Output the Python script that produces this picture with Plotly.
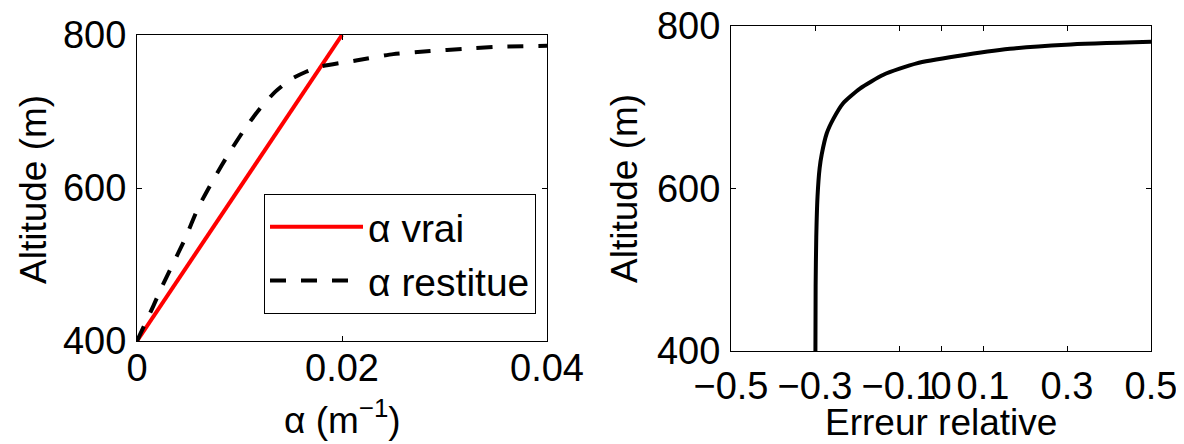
import plotly.graph_objects as go

# ---- data ----
alpha_vrai = [0.0, 0.02]
alt_vrai = [400, 800]

alpha_restitue = [0.0, 0.0016, 0.0025, 0.0047, 0.0060, 0.0075, 0.0090, 0.0105, 0.0120,
                  0.0135, 0.0150, 0.0165, 0.0180, 0.0215, 0.0250, 0.0286, 0.0319, 0.0351,
                  0.0400]
alt_restitue = [400, 446, 473, 534, 575, 612, 646, 677, 704,
                726, 742, 752, 759, 767, 775, 779, 782, 784.5,
                786]

erreur_rel = [-0.299, -0.2985, -0.297, -0.294, -0.289, -0.284, -0.272, -0.256, -0.233,
              -0.193, -0.137, -0.058, 0.04, 0.164, 0.298, 0.5]
alt_erreur = [400, 480, 540, 590, 625, 642, 668, 686, 705,
              723, 740, 754, 763, 772, 777, 780.5]

x1_ticks = [0, 0.02, 0.04]
x1_labels = ["0", "0.02", "0.04"]
x2_ticks = [-0.5, -0.3, -0.1, 0, 0.1, 0.3, 0.5]
x2_labels = ["\u22120.5", "\u22120.3", "\u22120.1", "0", "0.1", "0.3", "0.5"]
y_ticks = [400, 600, 800]

# page body has an 8px margin: work in window pixels and convert
OFF = 8
FW, FH = 1176, 436


def px(x):
    return (x - OFF) / FW


def py(y):
    return 1 - (y - OFF) / FH


FONT = "Liberation Sans, Arial, Helvetica, sans-serif"
TICKSIZE = 38
TITLESIZE = 37
LEGSIZE = 39

fig = go.Figure()
fig.add_trace(go.Scatter(x=alpha_vrai, y=alt_vrai, mode="lines", name="\u03b1 vrai",
                         line=dict(color="#ff0000", width=4), xaxis="x", yaxis="y"))
fig.add_trace(go.Scatter(x=alpha_restitue, y=alt_restitue, mode="lines", name="\u03b1 restitue",
                         line=dict(color="black", width=4, dash="16px,15px",
                                   shape="spline", smoothing=0.6),
                         xaxis="x", yaxis="y"))
fig.add_trace(go.Scatter(x=erreur_rel, y=alt_erreur, mode="lines", name="Erreur",
                         line=dict(color="black", width=4, shape="spline", smoothing=0.6),
                         xaxis="x2", yaxis="y2", showlegend=False))

axis_common = dict(showline=True, linecolor="black", linewidth=1, mirror="ticks",
                   ticks="inside", ticklen=5, tickcolor="black", tickwidth=1,
                   showgrid=False, zeroline=False, automargin=False,
                   ticklabeloverflow="allow",
                   tickfont=dict(family=FONT, size=TICKSIZE, color="black"))

fig.update_layout(
    width=FW, height=FH,
    margin=dict(l=0, r=0, t=0, b=0, pad=0),
    paper_bgcolor="white", plot_bgcolor="white",
    font=dict(family=FONT, color="black"),
    xaxis=dict(domain=[px(137), px(547)], range=[0, 0.04], tickmode="array",
               tickvals=x1_ticks, ticktext=x1_labels, anchor="y", ticklabelstandoff=-7,
               tickangle=0, **axis_common),
    yaxis=dict(domain=[py(341), py(35)], range=[400, 800], tickmode="array",
               tickvals=y_ticks, anchor="x", ticklabelstandoff=2, **axis_common),
    xaxis2=dict(domain=[px(731), px(1151)], range=[-0.5, 0.5], tickmode="array",
                tickvals=x2_ticks, ticktext=x2_labels, anchor="y2", ticklabelstandoff=1,
                tickangle=0, **axis_common),
    yaxis2=dict(domain=[py(351), py(26)], range=[400, 800], tickmode="array",
                tickvals=y_ticks, anchor="x2", ticklabelstandoff=2, **axis_common),
    legend=dict(x=px(264), y=py(194), xanchor="left", yanchor="top",
                bgcolor="white", bordercolor="black", borderwidth=1,
                font=dict(family=FONT, size=LEGSIZE, color="black"),
                itemwidth=93),
    showlegend=True,
)

title_font = dict(family=FONT, size=TITLESIZE, color="black")
fig.add_annotation(text="Altitude (m)", x=px(33), y=py(190), xref="paper", yref="paper",
                   textangle=-90, showarrow=False, xanchor="center", yanchor="middle",
                   font=title_font)
fig.add_annotation(text="Altitude (m)", x=px(624), y=py(189), xref="paper", yref="paper",
                   textangle=-90, showarrow=False, xanchor="center", yanchor="middle",
                   font=title_font)
fig.add_annotation(text="\u03b1 (m<sup>\u22121</sup>)", x=px(342), y=py(417),
                   xref="paper", yref="paper", showarrow=False, xanchor="center",
                   yanchor="middle", font=title_font)
fig.add_annotation(text="Erreur relative", x=px(941), y=py(422), xref="paper",
                   yref="paper", showarrow=False, xanchor="center", yanchor="middle",
                   font=title_font)

fig.write_html("out.html")
